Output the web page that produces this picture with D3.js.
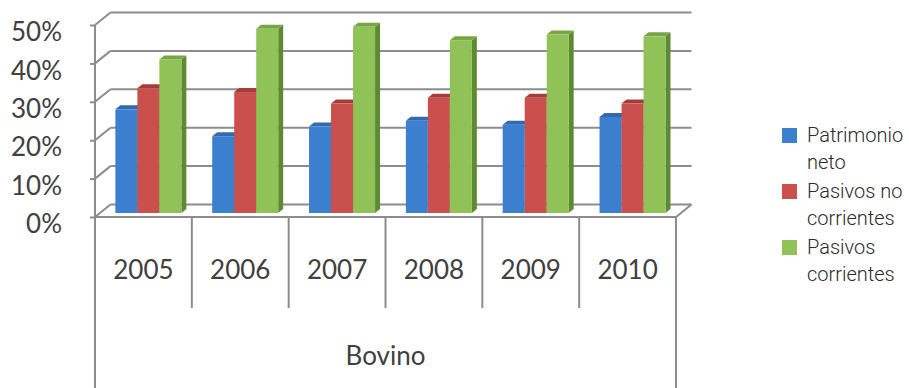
<!DOCTYPE html>
<html>
<head>
<meta charset="utf-8">
<script src="https://cdn.jsdelivr.net/npm/d3@7"></script>
<style>
  html, body { margin: 0; padding: 0; background: #ffffff; }
  svg { display: block; }
</style>
</head>
<body>
<svg id="chart" width="909" height="388"></svg>
<script>
// Estructura financiera del sector bovino, 2005-2010 (% del total)
const years = ["2005", "2006", "2007", "2008", "2009", "2010"];
const seriesKeys = ["pn", "pnc", "pc"];
const seriesLabels = [["Patrimonio", "neto"], ["Pasivos no", "corrientes"], ["Pasivos", "corrientes"]];
const patrimonioNeto = [27, 20, 22.5, 24, 23, 25];
const pasivosNoCorrientes = [32.5, 31.5, 28.5, 30, 30, 28.5];
const pasivosCorrientes = [40, 48, 48.5, 45, 46.5, 46];
const tickValues = [0, 10, 20, 30, 40, 50];
const groupLabel = "Bovino";

const seriesValues = [patrimonioNeto, pasivosNoCorrientes, pasivosCorrientes];
const palette = [
  { front: "#3d7fcf", side: "#2a5b98", top: "#3369b0" },
  { front: "#c9504d", side: "#8e3432", top: "#a83c3a" },
  { front: "#91c257", side: "#5e8a33", top: "#78a643" }
];

const svg = d3.select("#chart");
const lineColor = "#8c8c8c";
const textColor = "#404040";

// Oblique projection: depth vector of the plot box
const depth = { dx: 15.5, dy: -12.5 };
const barDepth = { t0: 0.32, t1: 0.64 };

const x0 = d3.scaleBand().domain(years).range([95, 676]);
const x1 = d3.scaleBand().domain(seriesKeys).range([0, x0.bandwidth()]).paddingOuter(0.7);
const y = d3.scaleLinear().domain([0, 50]).range([217, 25]);
const [xLeft, xRight] = x0.range();

// Back wall gridlines and left wall diagonals
const grid = svg.append("g").attr("stroke", lineColor).attr("stroke-width", 2).attr("fill", "none");
tickValues.forEach(v => {
  grid.append("line")
    .attr("x1", xLeft + depth.dx).attr("x2", xRight + depth.dx)
    .attr("y1", y(v) + depth.dy).attr("y2", y(v) + depth.dy);
  grid.append("line")
    .attr("x1", xLeft).attr("x2", xLeft + depth.dx)
    .attr("y1", y(v)).attr("y2", y(v) + depth.dy);
});
// Floor front edge and right edge
grid.append("line").attr("x1", xLeft).attr("x2", xRight).attr("y1", y(0)).attr("y2", y(0));
grid.append("line").attr("x1", xRight).attr("x2", xRight + depth.dx)
  .attr("y1", y(0)).attr("y2", y(0) + depth.dy);

// Value axis
const yAxis = svg.append("g")
  .attr("transform", `translate(${xLeft},0)`)
  .call(d3.axisLeft(y).tickValues(tickValues).tickSize(5).tickPadding(28).tickFormat(d => d + "%"));
yAxis.select(".domain").attr("stroke", lineColor).attr("stroke-width", 2)
  .attr("d", `M0,${y(50)}V${y(0)}`);
yAxis.selectAll(".tick line").attr("stroke", lineColor).attr("stroke-width", 2);
yAxis.selectAll(".tick text")
  .attr("fill", textColor)
  .attr("font-family", "Lato, 'DejaVu Sans', sans-serif")
  .attr("font-size", 26)
  .attr("dy", "0.6em");

// 3D columns
const bars = svg.append("g");
const bdx = (barDepth.t1 - barDepth.t0) * depth.dx;
const bdy = (barDepth.t1 - barDepth.t0) * depth.dy;
years.forEach((yr, i) => {
  seriesKeys.forEach((key, s) => {
    const v = seriesValues[s][i];
    const c = palette[s];
    const xl = x0(yr) + x1(key) + barDepth.t0 * depth.dx;
    const xr = xl + x1.bandwidth();
    const yTop = y(v) + barDepth.t0 * depth.dy;
    const yBot = y(0) + barDepth.t0 * depth.dy;
    const g = bars.append("g");
    g.append("polygon")
      .attr("points", [[xr, yTop], [xr + bdx, yTop + bdy], [xr + bdx, yBot + bdy], [xr, yBot]].join(" "))
      .attr("fill", c.side);
    g.append("polygon")
      .attr("points", [[xl, yTop], [xl + bdx, yTop + bdy], [xr + bdx, yTop + bdy], [xr, yTop]].join(" "))
      .attr("fill", c.top);
    g.append("rect")
      .attr("x", xl).attr("y", yTop)
      .attr("width", x1.bandwidth()).attr("height", yBot - yTop)
      .attr("fill", c.front);
  });
});

// Two-level category axis
const cat = svg.append("g").attr("stroke", lineColor).attr("stroke-width", 2);
years.forEach((yr, i) => {
  if (i > 0) {
    cat.append("line").attr("x1", x0(yr)).attr("x2", x0(yr)).attr("y1", y(0)).attr("y2", 308);
  }
});
[xLeft, xRight].forEach(xv => {
  cat.append("line").attr("x1", xv).attr("x2", xv).attr("y1", y(0)).attr("y2", 388);
});
svg.append("g").selectAll("text").data(years).join("text")
  .attr("x", d => x0(d) + x0.bandwidth() / 2)
  .attr("y", 270)
  .attr("dy", "0.35em")
  .attr("text-anchor", "middle")
  .attr("fill", textColor)
  .attr("font-family", "Lato, 'DejaVu Sans', sans-serif")
  .attr("font-size", 26)
  .text(d => d);
svg.append("text")
  .attr("x", (xLeft + xRight) / 2)
  .attr("y", 356)
  .attr("dy", "0.35em")
  .attr("text-anchor", "middle")
  .attr("fill", textColor)
  .attr("font-family", "Lato, 'DejaVu Sans', sans-serif")
  .attr("font-size", 26)
  .text(groupLabel);

// Legend
const legend = svg.append("g").attr("transform", "translate(782,128)");
seriesLabels.forEach((lines, s) => {
  const g = legend.append("g").attr("transform", `translate(0,${s * 56})`);
  g.append("rect").attr("width", 15).attr("height", 15).attr("fill", palette[s].front);
  lines.forEach((t, k) => {
    g.append("text")
      .attr("x", 25).attr("y", 7 + k * 27)
      .attr("dy", "0.35em")
      .attr("fill", "#2b2b2b")
      .attr("font-family", "Roboto, 'Open Sans', sans-serif")
      .attr("font-weight", 300)
      .attr("font-size", 20)
      .text(t);
  });
});
</script>
</body>
</html>
